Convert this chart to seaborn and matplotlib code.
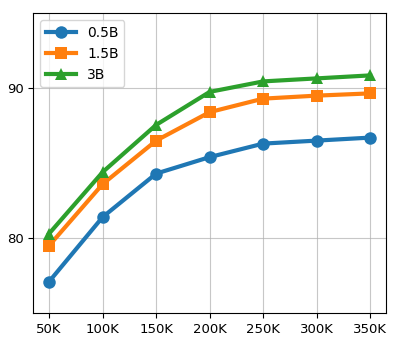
import pandas as pd
import matplotlib
matplotlib.use('Agg')
import matplotlib.pyplot as plt
import seaborn as sns

steps = [50, 100, 150, 200, 250, 300, 350]
step_labels = ['50K', '100K', '150K', '200K', '250K', '300K', '350K']
acc_05b = [77.1, 81.4, 84.3, 85.4, 86.3, 86.5, 86.7]
acc_15b = [79.5, 83.6, 86.5, 88.4, 89.3, 89.5, 89.65]
acc_3b = [80.3, 84.4, 87.55, 89.75, 90.45, 90.65, 90.85]
models = ['0.5B', '1.5B', '3B']

df = pd.DataFrame({
    'step': steps * 3,
    'acc': acc_05b + acc_15b + acc_3b,
    'model': [m for m in models for _ in steps],
})

fig, ax = plt.subplots(figsize=(3.99, 3.47), dpi=100)
sns.lineplot(data=df, x='step', y='acc', hue='model', style='model',
             markers={'0.5B': 'o', '1.5B': 's', '3B': '^'}, dashes=False,
             palette=['#1f77b4', '#ff7f0e', '#2ca02c'],
             linewidth=3, markersize=9, markeredgewidth=0, ax=ax)
ax.set_xticks(steps)
ax.set_xticklabels(step_labels)
ax.set_yticks([80, 90])
ax.set_ylim(75, 95)
ax.set_xlabel('')
ax.set_ylabel('')
ax.grid(True, color='#b0b0b0', linewidth=0.8, alpha=0.7)
ax.tick_params(labelsize=9.5)
ax.legend(loc='upper left', fontsize=10, handlelength=2.2)
plt.subplots_adjust(left=0.083, right=0.968, top=0.962, bottom=0.098)
plt.savefig('out.png', dpi=100)
